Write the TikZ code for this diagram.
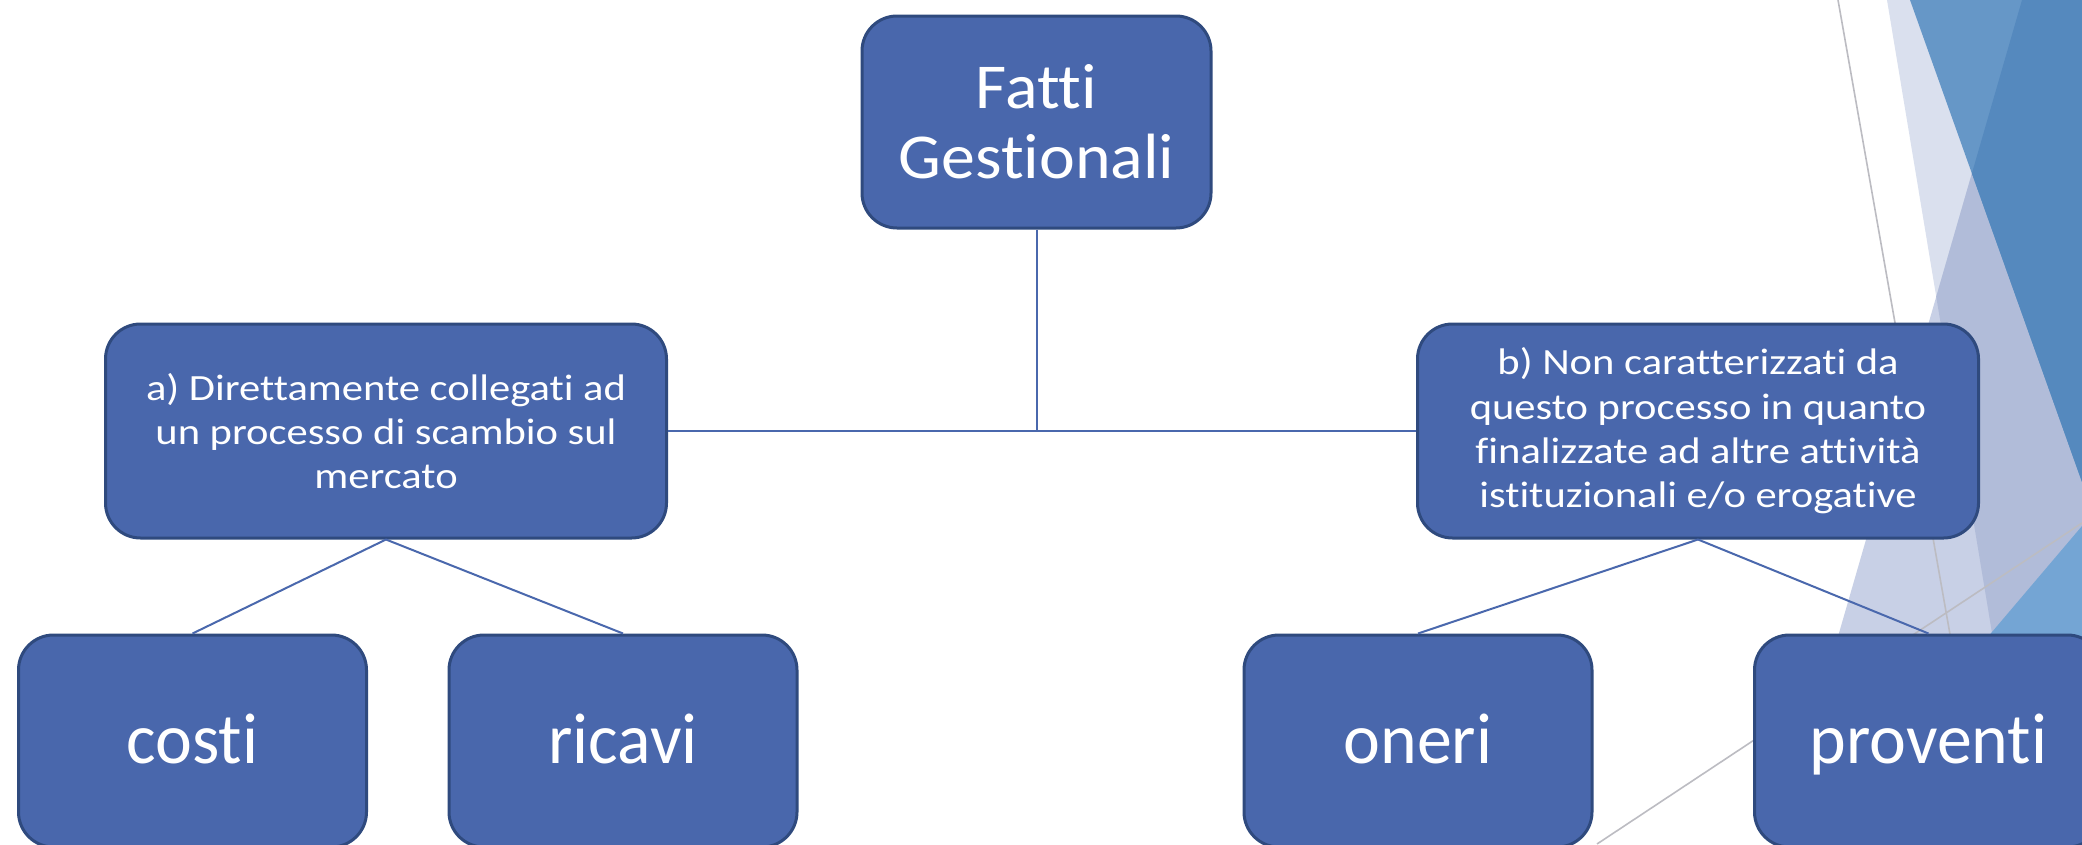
\documentclass[tikz,border=0pt]{standalone}
\usepackage{fontspec}
\setmainfont{Carlito}[Ligatures=NoCommon]
\newfontfamily\midfont{Carlito}[FakeStretch=1.15,Ligatures=NoCommon]
\newfontfamily\topfont{Carlito}[FakeStretch=1.06,Ligatures=NoCommon]
\newfontfamily\botfont{Carlito}[FakeStretch=0.97,Ligatures=NoCommon]
\definecolor{boxfill}{RGB}{73,103,172}
\definecolor{boxline}{RGB}{47,74,126}
\definecolor{conncol}{RGB}{74,104,173}
\definecolor{facA}{RGB}{218,224,238}
\definecolor{facC}{RGB}{200,208,230}
\definecolor{facAC}{RGB}{177,188,217}
\definecolor{facB}{RGB}{102,151,199}
\definecolor{facBC}{RGB}{85,137,190}
\definecolor{facD}{RGB}{116,165,212}
\definecolor{facline}{RGB}{188,188,194}
\begin{document}
\begin{tikzpicture}[x=1pt,y=-1pt,
  box/.style={draw=boxline, line width=3pt, fill=boxfill, rounded corners=35pt, text=white, align=center, inner sep=0pt},
  topbox/.style={box, minimum width=349pt, minimum height=212pt, font=\topfont\fontsize{64}{70}\selectfont},
  midbox/.style={box, minimum width=561pt, minimum height=214pt, font=\midfont\fontsize{37}{44.3}\selectfont},
  botbox/.style={box, minimum width=348pt, minimum height=212pt, font=\botfont\fontsize{72}{80}\selectfont, text height=44pt, text depth=0pt},
  conn/.style={draw=conncol, line width=2pt},
  facetline/.style={draw=facline, line width=1.6pt}]
\useasboundingbox (0,0) rectangle (2082,844);
\fill[white] (0,0) rectangle (2082,844);
% facet background decoration
\fill[facA] (1887,0) -- (2082,0) -- (2082,844) -- (2027,844) -- cycle;
\fill[facC] (2022,0) -- (2082,0) -- (2082,844) -- (1778,844) -- cycle;
\begin{scope}
  \clip (1887,0) -- (2082,0) -- (2082,844) -- (2027,844) -- cycle;
  \fill[facAC] (2022,0) -- (2082,0) -- (2082,844) -- (1778,844) -- cycle;
\end{scope}
\fill[facB] (1910,0) -- (2082,0) -- (2082,482) -- cycle;
\begin{scope}
  \clip (2022,0) -- (2082,0) -- (2082,844) -- (1778,844) -- cycle;
  \fill[facBC] (1910,0) -- (2082,0) -- (2082,482) -- cycle;
\end{scope}
\fill[facD] (2082,526) -- (2082,844) -- (1812,844) -- cycle;
\draw[facetline] (1838,0) -- (1987,844);
\draw[facetline] (2082,523) -- (1597,844);
% nodes
\node[topbox] (top) at (1036.5,122) {Fatti\\Gestionali};
\node[midbox] (a) at (386,431) {a) Direttamente collegati ad\\un processo di scambio sul\\mercato};
\node[midbox] (b) at (1698,431) {b) Non caratterizzati da\\questo processo in quanto\\finalizzate ad altre attività\\istituzionali e/o erogative};
\node[botbox] (costi) at (192.5,741) {costi};
\node[botbox] (ricavi) at (623,741) {ricavi};
\node[botbox] (oneri) at (1418,741) {oneri};
\node[botbox] (proventi) at (1928.5,741) {proventi};
% connectors
\coordinate (mid) at (top.south |- a.east);
\draw[conn] (top.south) -- (mid);
\draw[conn] (a.east) -- (b.west);
\draw[conn] (a.south) -- (costi.north);
\draw[conn] (a.south) -- (ricavi.north);
\draw[conn] (b.south) -- (oneri.north);
\draw[conn] (b.south) -- (proventi.north);
\end{tikzpicture}
\end{document}
